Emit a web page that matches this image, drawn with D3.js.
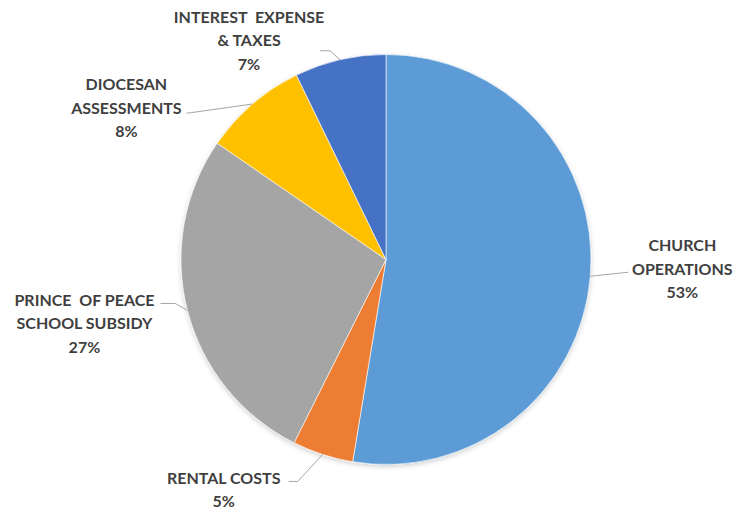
<!DOCTYPE html>
<html>
<head>
<meta charset="utf-8">
<script src="https://cdn.jsdelivr.net/npm/d3@7"></script>
<style>
  body { margin: 0; background: #fff; }
  svg text { font-family: Lato, "Open Sans", sans-serif; font-weight: bold; fill: #3f3f3f; white-space: pre; }
</style>
</head>
<body>
<script>
// Data
var categories = ["CHURCH OPERATIONS", "RENTAL COSTS", "PRINCE OF PEACE SCHOOL SUBSIDY", "DIOCESAN ASSESSMENTS", "INTEREST EXPENSE & TAXES"];
var labelLines = [
    ["CHURCH", "OPERATIONS"],
    ["RENTAL COSTS"],
    ["PRINCE  OF PEACE", "SCHOOL SUBSIDY"],
    ["DIOCESAN", "ASSESSMENTS"],
    ["INTEREST  EXPENSE", "& TAXES"]
];
var values = [52.6, 4.8, 27.2, 8.2, 7.2];
var colors = ["#5B9BD5", "#ED7D31", "#A5A5A5", "#FFC000", "#4472C4"];

var width = 749, height = 509;
var cx = 386, cy = 259.5, radius = 205;

// label layout: offset of label block from slice edge, leader elbow, tail
var layout = [
    { dx: 92, dy: -25, ex: 38, ey: -4, tail: 0 },
    { dx: -99, dy: 29.5, ex: -25, ey: 27, tail: -9 },
    { dx: -103, dy: -4.5, ex: -12, ey: -7, tail: -15 },
    { dx: -126, dy: -14, ex: -64, ey: 9, tail: -2 },
    { dx: -91, dy: -37, ex: -10, ey: -9, tail: -10 }
];

var svg = d3.select("body")
        .append("svg")
        .attr("width", width)
        .attr("height", height);

var defs = svg.append("defs");
defs.append("filter")
        .attr("id", "shadow")
        .attr("x", "-10%").attr("y", "-10%")
        .attr("width", "120%").attr("height", "120%")
        .append("feDropShadow")
        .attr("dx", 0).attr("dy", 2)
        .attr("stdDeviation", 2.5)
        .attr("flood-color", "#000")
        .attr("flood-opacity", 0.18);

var pie = d3.pie().sort(null).value(function(d) { return d; });
var arcs = pie(values);
var arc = d3.arc().innerRadius(0).outerRadius(radius);

var g = svg.append("g").attr("transform", "translate(" + cx + "," + cy + ")");

g.append("g")
        .attr("filter", "url(#shadow)")
        .selectAll("path.slice")
        .data(arcs)
        .enter()
        .append("path")
        .attr("class", "slice")
        .attr("d", arc)
        .attr("fill", function(d, i) { return colors[i]; })
        .attr("stroke", "#fff")
        .attr("stroke-width", 0.6);

function edgePoint(d) {
    var a = (d.startAngle + d.endAngle) / 2;
    return [radius * Math.sin(a), -radius * Math.cos(a)];
}

arcs.forEach(function(d, i) {
    var p = edgePoint(d);
    var L = layout[i];
    var lines = labelLines[i].concat([Math.round(values[i]) + "%"]);
    var lx = p[0] + L.dx, ly = p[1] + L.dy;

    // leader line
    var e = [p[0] + L.ex, p[1] + L.ey];
    g.append("polyline")
        .attr("points", [p, e, [e[0] + L.tail, e[1]]].map(function(q) { return q.join(","); }).join(" "))
        .attr("fill", "none")
        .attr("stroke", "#A6A6A6")
        .attr("stroke-width", 1);

    var t = g.append("text")
        .attr("text-anchor", "middle")
        .attr("font-size", 16);
    lines.forEach(function(s, j) {
        t.append("tspan")
            .attr("x", lx)
            .attr("y", ly + j * 23.5)
            .text(s);
    });
});
</script>
</body>
</html>
